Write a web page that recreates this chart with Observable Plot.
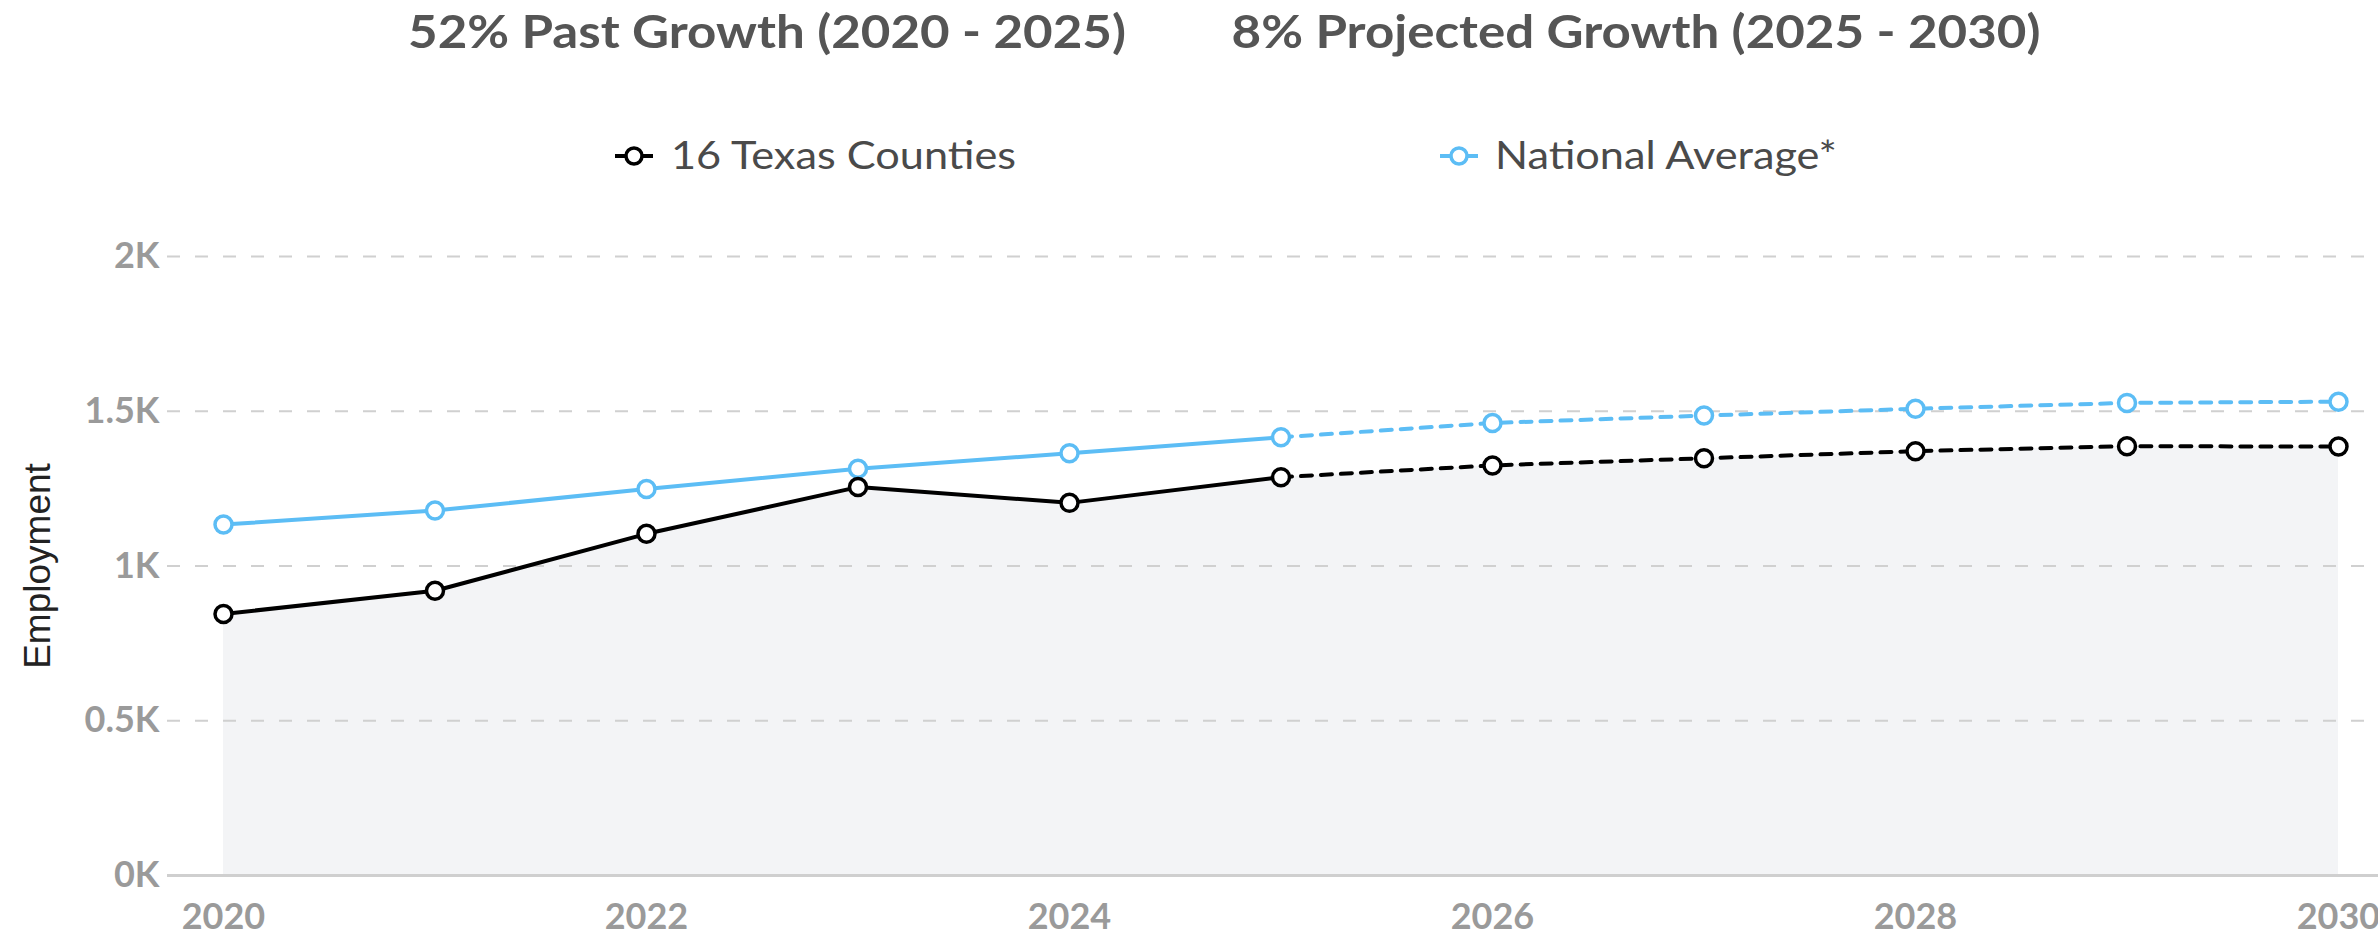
<!DOCTYPE html>
<html><head><meta charset="utf-8">
<script src="https://cdn.jsdelivr.net/npm/d3@7"></script>
<script src="https://cdn.jsdelivr.net/npm/@observablehq/plot@0.6"></script>
<style>
html,body{margin:0;padding:0;background:#fff;overflow:hidden;width:2378px;height:934px;position:relative;}
.title{position:absolute;top:8px;line-height:1;font-family:Lato,sans-serif;font-weight:700;font-size:46px;color:#555;white-space:nowrap;transform:translateX(-50%) scaleX(1.11);}
.leg{position:absolute;top:135px;line-height:1;font-family:Lato,sans-serif;font-size:39px;color:#4a4a4a;white-space:nowrap;transform-origin:0 0;transform:scaleX(1.11);}
.legicon{position:absolute;}
#chart{position:absolute;left:0;top:230px;}
</style>
</head><body>
<div id="head"></div>
<div id="chart"></div>
<script>
const titles = ["52% Past Growth (2020 - 2025)", "8% Projected Growth (2025 - 2030)"];
const seriesNames = ["16 Texas Counties", "National Average*"];
const years = [2020, 2021, 2022, 2023, 2024, 2025, 2026, 2027, 2028, 2029, 2030];
const texas = [845, 920, 1104, 1255, 1204, 1287, 1325, 1348, 1371, 1387, 1386];
const national = [1134, 1179, 1249, 1314, 1364, 1416, 1462, 1486, 1508, 1527, 1531];
const lastActual = 2025;
const yTicks = [0, 500, 1000, 1500, 2000];
const yTickLabels = ["0K", "0.5K", "1K", "1.5K", "2K"];
const xTicks = [2020, 2022, 2024, 2026, 2028, 2030];
const colors = ["#000000", "#5cbdf5"];

// header: titles + legend
const head = document.getElementById("head");
const titleCenters = [767, 1636];
titles.forEach((t, i) => {
  const s = document.createElement("div");
  s.className = "title"; s.textContent = t; s.style.left = titleCenters[i] + "px";
  head.appendChild(s);
});
const legIconCenters = [634, 1459];
const legTextLeft = [671, 1495];
seriesNames.forEach((n, i) => {
  const ic = document.createElementNS("http://www.w3.org/2000/svg", "svg");
  ic.setAttribute("class", "legicon");
  ic.setAttribute("width", 40); ic.setAttribute("height", 24);
  ic.style.left = (legIconCenters[i] - 20) + "px"; ic.style.top = "144px";
  ic.innerHTML = `<line x1="1" x2="39" y1="12" y2="12" stroke="${colors[i]}" stroke-width="4"/><circle cx="20" cy="12" r="8" fill="white" stroke="${colors[i]}" stroke-width="3.5"/>`;
  head.appendChild(ic);
  const t = document.createElement("div");
  t.className = "leg"; t.textContent = n; t.style.left = legTextLeft[i] + "px";
  head.appendChild(t);
});

// data table (national first so Texas draws on top)
const rows = [];
years.forEach((yr, i) => rows.push({year: yr, value: national[i], series: seriesNames[1]}));
years.forEach((yr, i) => rows.push({year: yr, value: texas[i], series: seriesNames[0]}));
const past = rows.filter(d => d.year <= lastActual);
const proj = rows.filter(d => d.year >= lastActual);

const plot = Plot.plot({
  width: 2378, height: 704,
  marginTop: 26, marginBottom: 59, marginLeft: 223, marginRight: 40,
  style: {background: "transparent", overflow: "visible"},
  x: {type: "linear", domain: [2020, 2030]},
  y: {domain: [0, 2000]},
  color: {domain: seriesNames, range: colors},
  marks: [
    Plot.areaY(rows.filter(d => d.series === seriesNames[0]), {x: "year", y: "value", fill: "#f3f4f6"}),
    Plot.ruleY(yTicks.filter(v => v > 0), {stroke: "#d0d0d0", strokeWidth: 2, strokeDasharray: "13,15", insetLeft: -56, insetRight: -40}),
    Plot.ruleY([0], {stroke: "#cfcfcf", strokeWidth: 3, insetLeft: -56, insetRight: -40}),
    Plot.axisY({ticks: yTicks, tickFormat: d => yTickLabels[yTicks.indexOf(d)], tickSize: 0, tickPadding: 64,
      fontSize: 36, fontFamily: "Lato", fontWeight: 700, fill: "#9a9a9a", label: null}),
    Plot.axisY({ticks: [], label: "Employment", labelAnchor: "center", labelOffset: 200, labelArrow: "none",
      fontSize: 37, fontFamily: "Liberation Sans", fill: "#222"}),
    Plot.axisX({ticks: xTicks, tickFormat: d => String(d), tickSize: 0, tickPadding: 28,
      fontSize: 36, fontFamily: "Lato", fontWeight: 700, fill: "#9a9a9a", label: null}),
    Plot.lineY(past, {x: "year", y: "value", z: "series", stroke: "series", strokeWidth: 4}),
    Plot.lineY(proj, {x: "year", y: "value", z: "series", stroke: "series", strokeWidth: 4, strokeDasharray: "11,9"}),
    Plot.dot(rows, {x: "year", y: "value", stroke: "series", fill: "white", r: 8.5, strokeWidth: 3.5})
  ]
});
document.getElementById("chart").appendChild(plot);
</script>
</body></html>
